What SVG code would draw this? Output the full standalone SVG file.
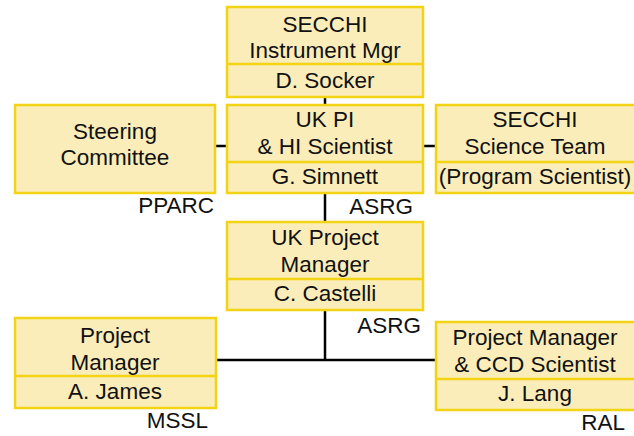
<svg xmlns="http://www.w3.org/2000/svg" width="634" height="436" viewBox="0 0 634 436">
<style>
.box{fill:#FAEDB9;stroke:#F3D415;stroke-width:2.5}
.div{stroke:#F3D415;stroke-width:2.5}
text{font-family:"Liberation Sans",Arial,sans-serif;font-size:22.5px;fill:#111}
.c{text-anchor:middle}
.r{text-anchor:end}
.ln{stroke:#000;stroke-width:2.5;fill:none}
</style>
<rect width="634" height="436" fill="#fff"/>
<g id="connectors">
<line class="ln" x1="325" y1="97" x2="325" y2="105"/>
<line class="ln" x1="325" y1="193" x2="325" y2="222"/>
<line class="ln" x1="325" y1="310" x2="325" y2="360"/>
<line class="ln" x1="216" y1="360" x2="436" y2="360"/>
<line class="ln" x1="215" y1="146" x2="227" y2="146"/>
<line class="ln" x1="423" y1="146" x2="436" y2="146"/>
</g>
<g id="instrument-mgr">
<rect class="box" x="227" y="7" width="196" height="90"/>
<line class="div" x1="227" y1="64" x2="423" y2="64"/>
<text class="c" x="325" y="32">SECCHI</text>
<text class="c" x="325" y="58">Instrument Mgr</text>
<text class="c" x="325" y="88">D. Socker</text>
</g>
<g id="steering">
<rect class="box" x="15" y="105" width="200" height="88"/>
<text class="c" x="115" y="139">Steering</text>
<text class="c" x="115" y="165">Committee</text>
<text class="r" x="214" y="213">PPARC</text>
</g>
<g id="uk-pi">
<rect class="box" x="227" y="105" width="196" height="88"/>
<line class="div" x1="227" y1="162" x2="423" y2="162"/>
<text class="c" x="325" y="127">UK PI</text>
<text class="c" x="325" y="154">&amp; HI Scientist</text>
<text class="c" x="325" y="184">G. Simnett</text>
<text class="r" x="413" y="214">ASRG</text>
</g>
<g id="science-team">
<rect class="box" x="436" y="105" width="200" height="88"/>
<line class="div" x1="436" y1="162" x2="636" y2="162"/>
<text class="c" x="535" y="127">SECCHI</text>
<text class="c" x="535" y="154">Science Team</text>
<text class="c" x="535" y="184">(Program Scientist)</text>
</g>
<g id="uk-pm">
<rect class="box" x="227" y="222" width="196" height="88"/>
<line class="div" x1="227" y1="279" x2="423" y2="279"/>
<text class="c" x="325" y="245">UK Project</text>
<text class="c" x="325" y="272">Manager</text>
<text class="c" x="325" y="301">C. Castelli</text>
<text class="r" x="421" y="333">ASRG</text>
</g>
<g id="pm-mssl">
<rect class="box" x="15" y="318" width="201" height="90"/>
<line class="div" x1="15" y1="376" x2="216" y2="376"/>
<text class="c" x="115" y="343">Project</text>
<text class="c" x="115" y="370">Manager</text>
<text class="c" x="115" y="399">A. James</text>
<text class="r" x="208" y="428">MSSL</text>
</g>
<g id="pm-ral">
<rect class="box" x="436" y="322" width="200" height="88"/>
<line class="div" x1="436" y1="379" x2="636" y2="379"/>
<text class="c" x="535" y="345">Project Manager</text>
<text class="c" x="535" y="372">&amp; CCD Scientist</text>
<text class="c" x="535" y="401">J. Lang</text>
<text class="r" x="625" y="430">RAL</text>
</g>
</svg>
